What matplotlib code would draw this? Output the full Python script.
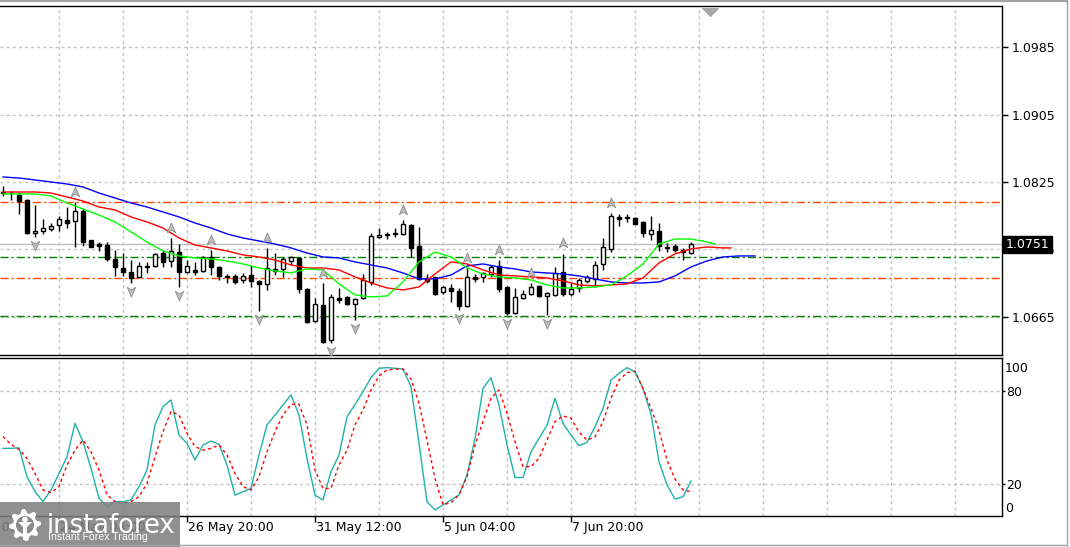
import matplotlib
matplotlib.use("Agg")
import matplotlib.pyplot as plt
import numpy as np
from matplotlib.path import Path
from matplotlib.patches import Polygon, Circle, Rectangle
from matplotlib.lines import Line2D
from matplotlib.transforms import offset_copy, blended_transform_factory
from matplotlib import font_manager

# ---------------- data (EURUSD H4) ----------------
bar_open = [1.08131, 1.08119, 1.08096, 1.08036, 1.07645, 1.07668, 1.07692, 1.0774, 1.07799, 1.07787,
            1.07906, 1.07562, 1.07514, 1.07502, 1.07336, 1.07229, 1.07182, 1.07123, 1.07253, 1.07253,
            1.07407, 1.07313, 1.07419, 1.07182, 1.07206, 1.07194, 1.0736, 1.07241, 1.07135, 1.07135,
            1.07087, 1.07146, 1.07075, 1.0704, 1.07218, 1.07218, 1.07313, 1.07348, 1.0698, 1.066,
            1.0679, 1.06375, 1.06873, 1.06885, 1.06802, 1.06873, 1.07063, 1.07597, 1.07633, 1.07645,
            1.07633, 1.0774, 1.0749, 1.07099, 1.07123, 1.06945, 1.06992, 1.06957, 1.06778, 1.07123,
            1.07123, 1.07158, 1.07253, 1.07004, 1.06696, 1.06873, 1.06921, 1.07016, 1.06897, 1.06909,
            1.07182, 1.06921, 1.06992, 1.07075, 1.07099, 1.07277, 1.07455, 1.07835, 1.07823, 1.07823,
            1.07775, 1.07633, 1.07668, 1.07479, 1.0749, 1.07443, 1.07407]
bar_high = [1.08203, 1.08143, 1.08131, 1.08048, 1.07977, 1.07811, 1.07763, 1.07846, 1.07953, 1.08013,
            1.07941, 1.07562, 1.07538, 1.07538, 1.07443, 1.07407, 1.07324, 1.07301, 1.07301, 1.07407,
            1.07443, 1.07585, 1.07514, 1.07324, 1.07301, 1.07372, 1.07443, 1.07253, 1.07158, 1.07158,
            1.0717, 1.07265, 1.07087, 1.07467, 1.07407, 1.0736, 1.07372, 1.0736, 1.06992, 1.06873,
            1.07051, 1.06921, 1.06992, 1.06897, 1.06873, 1.07158, 1.07645, 1.07704, 1.07657, 1.07704,
            1.07799, 1.07751, 1.07716, 1.07158, 1.07123, 1.07016, 1.0704, 1.06992, 1.07229, 1.07158,
            1.07182, 1.07265, 1.07324, 1.07016, 1.06992, 1.06968, 1.07051, 1.07028, 1.06945, 1.07241,
            1.07396, 1.07051, 1.07111, 1.07146, 1.07313, 1.07585, 1.07882, 1.0787, 1.0787, 1.07835,
            1.07787, 1.07846, 1.07763, 1.07526, 1.07514, 1.07467, 1.07538]
bar_low = [1.08084, 1.08036, 1.0787, 1.07633, 1.07597, 1.07633, 1.07668, 1.07668, 1.07704, 1.07479,
           1.0749, 1.07479, 1.07431, 1.07313, 1.07135, 1.07135, 1.07051, 1.07111, 1.0717, 1.07241,
           1.07241, 1.07241, 1.07004, 1.0717, 1.07146, 1.07182, 1.07146, 1.07087, 1.07051, 1.0704,
           1.07051, 1.07004, 1.06719, 1.06968, 1.07146, 1.07123, 1.07265, 1.06933, 1.06577, 1.06589,
           1.06339, 1.06339, 1.06814, 1.0679, 1.06612, 1.06862, 1.07028, 1.07585, 1.07573, 1.07597,
           1.07621, 1.0736, 1.07087, 1.07051, 1.06909, 1.06921, 1.06826, 1.06731, 1.06767, 1.07063,
           1.07063, 1.07123, 1.06945, 1.06672, 1.06684, 1.06862, 1.06909, 1.06885, 1.06672, 1.06897,
           1.06897, 1.06897, 1.06945, 1.07051, 1.07004, 1.07206, 1.07419, 1.07728, 1.07775, 1.07751,
           1.07597, 1.07562, 1.07431, 1.07419, 1.07419, 1.07324, 1.07396]
bar_close = [1.08119, 1.08115, 1.08024, 1.07645, 1.07668, 1.07704, 1.07728, 1.07811, 1.07763, 1.07906,
             1.07538, 1.07479, 1.0749, 1.07336, 1.07241, 1.07182, 1.07111, 1.07253, 1.07241, 1.07396,
             1.07301, 1.07431, 1.07182, 1.07253, 1.07182, 1.0736, 1.07241, 1.07135, 1.07123, 1.07063,
             1.07135, 1.07075, 1.0704, 1.07229, 1.07194, 1.07336, 1.0736, 1.0698, 1.06589, 1.06802,
             1.06351, 1.06885, 1.0685, 1.06802, 1.06862, 1.07087, 1.07609, 1.07621, 1.07621, 1.07633,
             1.07751, 1.07467, 1.07099, 1.07075, 1.06921, 1.07004, 1.06957, 1.06778, 1.07123, 1.07099,
             1.0717, 1.07241, 1.0698, 1.06696, 1.06885, 1.06921, 1.07004, 1.06897, 1.06933, 1.0717,
             1.06921, 1.0698, 1.07087, 1.07123, 1.07265, 1.07479, 1.07846, 1.07811, 1.07835, 1.07751,
             1.07645, 1.0768, 1.0749, 1.07467, 1.07443, 1.07419, 1.0751]

# Alligator lines (shifted forward past the last bar)
jaw_bars = list(range(0, 95, 2))
jaw = [1.08309, 1.08297, 1.08274, 1.0825, 1.08226, 1.08191, 1.08119, 1.0806, 1.08001, 1.07953,
       1.07894, 1.07835, 1.07763, 1.07704, 1.07633, 1.07585, 1.0755, 1.07514, 1.07467, 1.07407,
       1.0736, 1.07348, 1.07301, 1.07265, 1.07229, 1.0717, 1.07099, 1.07099, 1.07146, 1.07253,
       1.07277, 1.07241, 1.07218, 1.07182, 1.0717, 1.07158, 1.07135, 1.07099, 1.07063, 1.07051,
       1.07051, 1.07063, 1.07135, 1.07241, 1.07313, 1.0736, 1.07372, 1.07372]
teeth_bars = list(range(0, 91, 2)) + [91]
teeth = [1.08131, 1.08131, 1.08131, 1.08119, 1.08072, 1.08024, 1.07953, 1.07918, 1.07835, 1.07775,
         1.07704, 1.07585, 1.07502, 1.07467, 1.07431, 1.07384, 1.0736, 1.07324, 1.07265, 1.07229,
         1.07229, 1.07206, 1.07123, 1.07051, 1.06992, 1.06968, 1.07004, 1.07158, 1.07301, 1.07277,
         1.07206, 1.07146, 1.07135, 1.07123, 1.07111, 1.07075, 1.07028, 1.07016, 1.07028, 1.0704,
         1.07111, 1.07289, 1.07396, 1.07455, 1.07479, 1.07467, 1.07467]
lips_bars = list(range(0, 89, 2)) + [89]
lips = [1.08108, 1.08108, 1.08108, 1.08084, 1.08001, 1.07929, 1.07858, 1.07775, 1.07657, 1.07538,
        1.07431, 1.07372, 1.07348, 1.07336, 1.07313, 1.07277, 1.07229, 1.07194, 1.0717, 1.07218,
        1.07206, 1.0704, 1.06909, 1.06885, 1.06897, 1.07063, 1.07301, 1.07419, 1.0736, 1.07229,
        1.07158, 1.07123, 1.07111, 1.07087, 1.07028, 1.06992, 1.06992, 1.07004, 1.07028, 1.07135,
        1.07277, 1.07514, 1.07573, 1.07573, 1.07538, 1.07514]

fractal_up = [9, 21, 26, 33, 40, 50, 58, 62, 66, 70, 76]
fractal_down = [4, 16, 22, 32, 41, 44, 57, 63, 68]

resistance_levels = [1.0801, 1.0711]
support_levels = [1.0736, 1.0666]
last_price = 1.0751

stoch_k = [42.9, 42.9, 43.3, 24.7, 15.1, 8.7, 16.2, 26.8, 37.5, 59.0,
           47.2, 30.1, 10.8, 5.5, 8.7, 8.7, 9.8, 18.3, 29.0, 58.0,
           69.7, 74.0, 51.5, 46.1, 35.4, 45.1, 47.6, 45.5, 32.2, 12.9,
           15.1, 17.2, 38.6, 58.0, 64.3, 70.8, 77.2, 64.3, 36.5, 12.9,
           9.8, 27.9, 38.6, 63.2, 71.0, 79.3, 88.3, 94.3, 94.7, 94.3,
           93.8, 82.5, 46.1, 8.7, 3.4, 6.6, 9.8, 13.0, 25.8, 49.3,
           81.4, 88.3, 70.8, 45.1, 24.2, 24.2, 40.7, 49.3, 57.8, 75.0,
           58.9, 51.5, 44.6, 46.8, 56.8, 68.5, 86.7, 91.0, 94.7, 92.1,
           81.4, 64.8, 34.4, 19.4, 10.4, 11.9, 21.9]
stoch_d = [50.5, 45.5, 42.2, 36.5, 26.8, 16.2, 14.5, 18.3, 32.2, 41.8,
           48.2, 40.7, 29.0, 13.0, 8.7, 7.7, 8.7, 11.9, 20.4, 37.5,
           53.7, 66.5, 64.3, 52.6, 44.0, 41.8, 42.9, 45.1, 38.6, 26.8,
           18.3, 16.2, 24.7, 40.7, 53.7, 64.3, 71.2, 71.2, 58.0, 29.0,
           17.2, 17.2, 32.2, 41.8, 58.0, 67.5, 80.4, 89.4, 93.2, 93.8,
           93.8, 87.4, 71.8, 48.2, 23.6, 6.6, 8.1, 13.0, 24.7, 45.1,
           60.1, 75.0, 80.4, 65.4, 47.2, 31.2, 31.2, 36.5, 48.2, 60.1,
           63.7, 62.2, 53.3, 48.2, 50.3, 60.1, 75.0, 86.7, 91.5, 92.4,
           81.4, 68.6, 54.7, 35.4, 23.2, 16.2, 15.1]
stoch_levels = [20, 80]

price_ticks = [1.0665, 1.0745, 1.0825, 1.0905, 1.0985]
time_tick_bars = [-9, 7, 23, 39, 55, 71]
time_tick_labels = ["19 May 12:00", "24 May 04:00", "26 May 20:00",
                    "31 May 12:00", "5 Jun 04:00", "7 Jun 20:00"]
grid_bars = list(range(7, 125, 8))

# ---------------- layout ----------------
W, H = 1070, 547
def fx(px):
    return px / W
def fy(py):
    return 1 - py / H

GRID = dict(color='#C4C4C4', lw=1, dashes=(2.2, 2.2))
FS = 9

fig = plt.figure(figsize=(W / 100, H / 100), dpi=100)
fig.patch.set_facecolor('white')

ax = fig.add_axes([0, fy(355), fx(1002), (355 - 6) / H])
ax2 = fig.add_axes([0, fy(516), fx(1002), (516 - 358) / H])

for a in (ax, ax2):
    a.set_xlim(-0.375, 124.875)
    a.spines['left'].set_visible(False)
    for s in ('top', 'right', 'bottom'):
        a.spines[s].set_color('black')
        a.spines[s].set_linewidth(1)
    a.set_axisbelow(True)

# ---------------- price panel ----------------
ax.set_ylim(1.06196, 1.10339)
ax.set_xticks(grid_bars)
ax.tick_params(axis='x', length=0, labelbottom=False)
ax.yaxis.tick_right()
ax.set_yticks(price_ticks)
ax.set_yticklabels(['%.4f' % p for p in price_ticks])
ax.tick_params(axis='y', direction='out', length=4, width=1, pad=3, labelsize=FS)
ax.grid(True, **GRID)

for lvl in resistance_levels:
    ax.axhline(lvl, color='#FF4500', lw=1, dashes=(5.8, 2.2, 1.5, 2.2), zorder=1.5)
for lvl in support_levels:
    ax.axhline(lvl, color='#008000', lw=1, dashes=(5.8, 2.2, 1.5, 2.2), zorder=1.5)
ax.axhline(last_price, color='#C0C0C0', lw=1, zorder=1.4)

o = np.array(bar_open)
h = np.array(bar_high)
l = np.array(bar_low)
c = np.array(bar_close)
idx = np.arange(len(o))
bull = c >= o
ax.vlines(idx, l, h, color='black', lw=1, zorder=3)
ax.bar(idx[bull], (c - o)[bull], bottom=o[bull], width=0.55,
       facecolor='white', edgecolor='black', lw=1, zorder=4)
ax.bar(idx[~bull], (o - c)[~bull], bottom=c[~bull], width=0.55,
       facecolor='black', edgecolor='black', lw=1, zorder=4)

ax.plot(jaw_bars, jaw, color='#0000FF', lw=1, zorder=5)
ax.plot(teeth_bars, teeth, color='#FF0000', lw=1, zorder=5)
ax.plot(lips_bars, lips, color='#00FF00', lw=1, zorder=5)

# fractal arrows
up_path = Path([(0, 1), (0.75, -0.75), (0, -0.3), (-0.75, -0.75), (0, 1)],
               [Path.MOVETO, Path.LINETO, Path.LINETO, Path.LINETO, Path.CLOSEPOLY])
down_path = Path([(0, -1), (0.75, 0.75), (0, 0.3), (-0.75, 0.75), (0, -1)],
                 [Path.MOVETO, Path.LINETO, Path.LINETO, Path.LINETO, Path.CLOSEPOLY])
up_tr = offset_copy(ax.transData, fig=fig, x=0, y=7.5, units='points')
down_tr = offset_copy(ax.transData, fig=fig, x=0, y=-5.5, units='points')
ax.plot(fractal_up, h[fractal_up], ls='none', marker=up_path, ms=8,
        mfc='#BDBDBD', mec='#8C8C8C', mew=0.6, transform=up_tr, zorder=6)
ax.plot(fractal_down, l[fractal_down], ls='none', marker=down_path, ms=8,
        mfc='#BDBDBD', mec='#8C8C8C', mew=0.6, transform=down_tr, zorder=6)

# chart shift marker on the top edge
shift_path = Path([(-1, 0.5), (1, 0.5), (0, -0.5), (-1, 0.5)],
                  [Path.MOVETO, Path.LINETO, Path.LINETO, Path.CLOSEPOLY])
ax.plot([710 / 1002], [1.0], ls='none', marker=shift_path, ms=11, color='#A8A8A8',
        transform=offset_copy(ax.transAxes, fig=fig, y=-4.2, units='points'),
        clip_on=False, zorder=7)

# current price label
ax.text(1.0035, last_price, '%.4f' % last_price,
        transform=blended_transform_factory(ax.transAxes, ax.transData),
        ha='left', va='center', color='white', fontsize=FS, clip_on=False, zorder=10,
        bbox=dict(boxstyle='square,pad=0.18', fc='black', ec='black'))

# ---------------- stochastic panel ----------------
ax2.set_ylim(-0.5, 100.9)
ax2.plot(idx, stoch_k, color='#20B2AA', lw=1, zorder=3)
ax2.plot(idx, stoch_d, color='#FF0000', lw=1, dashes=(2.2, 2.2), zorder=3)
ax2.yaxis.tick_right()
ax2.set_yticks(stoch_levels)
ax2.set_yticklabels([str(v) for v in stoch_levels])
ax2.tick_params(axis='y', direction='out', length=2, width=1, pad=1, labelsize=FS)
ytr = blended_transform_factory(ax2.transAxes, ax2.transData)
ax2.text(1.003, 100, '100', fontsize=FS, ha='left', va='top',
         transform=offset_copy(ytr, fig=fig, y=-2, units='points'))
ax2.text(1.003, 0, '0', transform=ytr, ha='left', va='bottom', fontsize=FS)

ax2.set_xticks(time_tick_bars[1:])
ax2.set_xticks(grid_bars, minor=True)
ax2.tick_params(axis='x', which='major', direction='out', length=4, width=1, labelbottom=False)
ax2.tick_params(axis='x', which='minor', length=0)
ax2.grid(True, which='both', axis='x', **GRID)
ax2.grid(True, which='major', axis='y', **GRID)

ttr = blended_transform_factory(ax2.transData, fig.transFigure)
for b, lab in zip(time_tick_bars, time_tick_labels):
    ax2.text(b + 0.15, fy(528), lab, transform=ttr, ha='left', va='center',
             fontsize=FS, clip_on=False)

# ---------------- window frame ----------------
fig.add_artist(Line2D([0, fx(1067)], [fy(1), fy(1)], color='#A0A0A0', lw=1.5))
fig.add_artist(Line2D([fx(1067), fx(1067)], [fy(1), fy(545)], color='#A0A0A0', lw=1))
fig.add_artist(Line2D([0, fx(1067)], [fy(545), fy(545)], color='#A0A0A0', lw=1))

# ---------------- logo ----------------
lax = fig.add_axes([0, 0, fx(180), (547 - 502) / H])
lax.set_xlim(0, 180)
lax.set_ylim(0, 45)
lax.axis('off')
lax.add_patch(Rectangle((0, 0), 180, 45, facecolor='#7E7E7E', alpha=0.86, lw=0))
gear = []
for i in range(32):
    ang = np.pi * 2 * i / 32
    r = 16 if (i // 2) % 2 == 0 else 12
    gear.append((25 + r * np.cos(ang), 22 + r * np.sin(ang)))
lax.add_patch(Polygon(gear, closed=True, facecolor='white', lw=0))
lax.add_patch(Circle((25, 22), 9, facecolor='#8A8A8A', lw=0))
lax.add_patch(Circle((25, 27.5), 2.8, facecolor='white', lw=0))
lax.add_patch(Polygon([(18, 25), (32, 25), (27, 20), (27, 7), (23, 7), (23, 20)],
                      closed=True, facecolor='white', lw=0))

names = {f.name for f in font_manager.fontManager.ttflist}
if 'Liberation Sans Narrow' in names:
    big_font, big_size = 'Liberation Sans Narrow', 25.5
else:
    big_font, big_size = 'DejaVu Sans', 18.5
small_font = 'Liberation Sans' if 'Liberation Sans' in names else 'DejaVu Sans'
lax.text(47, 14, 'instaforex', family=big_font, fontsize=big_size, color='white',
         ha='left', va='baseline')
lax.text(48, 9.5, 'Instant Forex Trading', family=small_font, fontsize=7.6, color='white',
         ha='left', va='center')

fig.savefig('out.png', dpi=100)
